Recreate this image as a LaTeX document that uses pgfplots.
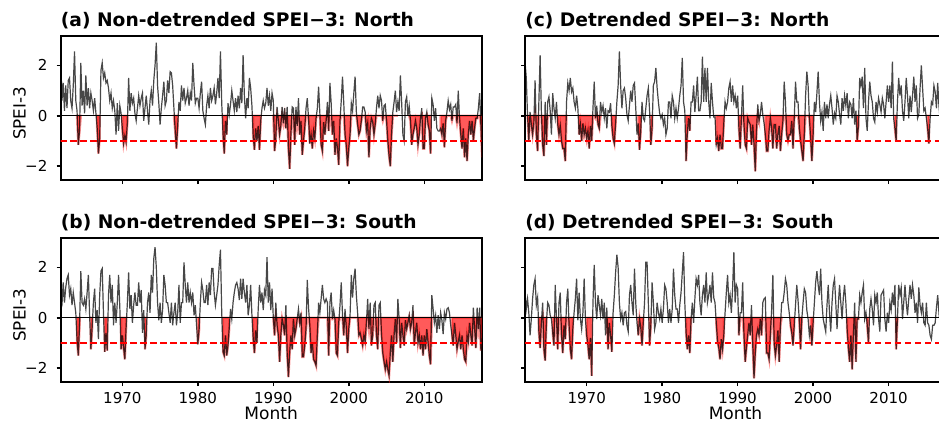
\documentclass[border=0pt]{standalone}
\usepackage{fontspec}
\setmainfont{DejaVu Sans}
\usepackage{pgfplots}
\usepackage{pgfplotstable}
\pgfplotsset{compat=1.18}

% SPEI-3, two-month steps from Nov 1961 (one row of six values per year)
\pgfplotstableread[row sep=\\]{
v\\
2.4\\
0.6\\ 1.3\\ 0.2\\ 1.2\\ 0.3\\ 1.4\\
1.5\\ 0.6\\ 0.3\\ 1.2\\ 2.55\\ 0.6\\
0.2\\ -1.15\\ -0.6\\ 2.1\\ 0.4\\ 1.0\\
0.1\\ 1.6\\ 0.4\\ 1.1\\ 0.3\\ 0.9\\
0.6\\ 0.2\\ 0.7\\ 0.1\\ -0.5\\ -1.5\\
-0.9\\ 1.8\\ 2.1\\ 1.5\\ 1.7\\ 1.3\\
1.4\\ 1.1\\ 0.6\\ 0.9\\ 0.3\\ 0.6\\
0.2\\ -0.75\\ 0.5\\ -0.6\\ 0.4\\ 0.1\\
-0.5\\ -1.1\\ -0.8\\ -1.05\\ -0.3\\ 1.5\\
0.2\\ 0.9\\ 0.5\\ 0.7\\ 0.1\\ -0.2\\
0.3\\ 0.8\\ 0.4\\ 0.7\\ 0.9\\ -0.2\\
0.3\\ 0.8\\ 0.2\\ -0.35\\ 0.6\\ 1.0\\
0.4\\ 1.4\\ 2.0\\ 2.9\\ 1.2\\ 0.5\\
-0.35\\ 0.3\\ 0.8\\ 1.35\\ 0.4\\ 0.6\\
1.4\\ 0.9\\ 1.75\\ 1.7\\ 1.2\\ 0.3\\
-0.6\\ -1.3\\ -0.4\\ 0.55\\ 0.2\\ 1.2\\
0.6\\ 1.1\\ 0.5\\ 0.7\\ 1.0\\ 0.4\\
0.9\\ 0.6\\ 2.1\\ 1.2\\ 0.5\\ 0.7\\
0.7\\ 0.3\\ 0.9\\ 1.35\\ 0.2\\ -0.1\\
-0.35\\ 0.4\\ 0.8\\ 0.3\\ 1.1\\ 0.6\\
0.8\\ 1.1\\ 0.45\\ 0.9\\ 1.5\\ 0.7\\
2.55\\ 0.5\\ -0.7\\ -1.5\\ -0.2\\ -0.75\\
0.5\\ 0.05\\ 0.45\\ 1.0\\ 0.6\\ 0.2\\
0.7\\ 0.15\\ 0.8\\ 0.3\\ 1.1\\ 0.5\\
2.4\\ 0.8\\ -0.1\\ 0.7\\ 0.3\\ 1.5\\
1.1\\ 0.4\\ -0.8\\ -1.35\\ -0.5\\ -1.0\\
-0.4\\ -1.35\\ -0.2\\ 0.3\\ 0.6\\ 0.3\\
0.5\\ 1.1\\ 0.4\\ 0.8\\ 0.2\\ 0.9\\
0.6\\ -1.4\\ -0.9\\ 0.35\\ -0.2\\ -0.75\\
-0.4\\ 0.35\\ -0.3\\ 0.3\\ -0.5\\ 0.35\\
-1.3\\ -2.1\\ -0.75\\ 0.35\\ 0.3\\ -1.15\\
0.35\\ -0.4\\ 0.7\\ -0.75\\ -0.2\\ -1.55\\
-1.0\\ -0.5\\ 0.3\\ 0.7\\ -0.1\\ -1.1\\
-0.75\\ -1.3\\ -0.6\\ -0.9\\ -0.1\\ 0.3\\
1.15\\ 0.1\\ -1.15\\ -1.4\\ -0.25\\ -0.75\\
-0.2\\ 0.55\\ -0.6\\ 1.3\\ 0.5\\ -0.75\\
-0.2\\ -1.55\\ -0.9\\ -1.3\\ -1.95\\ -0.2\\
0.6\\ 1.55\\ 0.5\\ -0.75\\ -1.2\\ -2.0\\
-1.3\\ -0.75\\ 0.5\\ 0.2\\ 0.9\\ 1.55\\
0.15\\ -0.35\\ -0.75\\ -0.6\\ -0.2\\ 0.35\\
0.35\\ 0.15\\ -0.6\\ -0.3\\ -1.65\\ -0.5\\
-0.1\\ -0.25\\ -0.75\\ -0.35\\ 0.3\\ 0.8\\
0.3\\ 0.8\\ 0.6\\ -0.2\\ 0.4\\ 0.45\\
-0.2\\ -1.0\\ -1.6\\ -2.0\\ -0.75\\ 0.15\\
0.55\\ 1.0\\ 0.15\\ 0.55\\ 0.2\\ 1.6\\
0.55\\ -0.75\\ -1.0\\ 0.55\\ 0.75\\ 0.0\\
0.4\\ -0.2\\ -1.15\\ -0.75\\ -0.5\\ -0.2\\
-0.5\\ -1.15\\ -0.75\\ -0.1\\ 0.3\\ -1.3\\
-1.3\\ -0.1\\ 0.15\\ -0.35\\ -0.6\\ -1.5\\
0.7\\ 0.45\\ -0.2\\ 0.3\\ -0.5\\ -0.6\\
-0.6\\ -0.5\\ -0.75\\ -0.3\\ -1.25\\ -0.2\\
0.15\\ 0.6\\ 0.25\\ 0.45\\ -0.2\\ 0.35\\
0.35\\ 0.45\\ -0.3\\ 1.0\\ -0.1\\ -0.75\\
-1.3\\ -0.5\\ -1.65\\ -0.9\\ -1.8\\ -0.75\\
-0.2\\ -0.75\\ -0.2\\ -1.0\\ -0.5\\ -0.1\\
-0.1\\ 0.3\\ 0.9\\ -0.4\\ -1.65\\
}\northraw

\pgfplotstableread[row sep=\\]{
v\\
0.3\\
0.5\\ 1.4\\ 0.6\\ 1.2\\ 1.55\\ 1.7\\
0.9\\ 1.15\\ 0.5\\ 1.0\\ 0.6\\ 0.2\\
-0.9\\ -1.5\\ -0.3\\ 1.85\\ 0.6\\ 0.5\\
0.75\\ 0.35\\ 1.0\\ 1.7\\ 0.1\\ -1.25\\
-0.4\\ 0.6\\ 1.15\\ -0.2\\ 0.3\\ -0.85\\
0.9\\ 1.85\\ 1.95\\ 0.2\\ -1.35\\ -0.6\\
-1.3\\ 0.9\\ 1.7\\ 0.6\\ 1.3\\ -0.3\\
0.6\\ -0.2\\ 0.6\\ 1.7\\ 0.4\\ -1.25\\
-0.7\\ -1.2\\ -1.65\\ -0.4\\ 0.6\\ 1.8\\
0.35\\ 0.9\\ -0.2\\ 0.5\\ 1.0\\ 0.5\\
0.5\\ 1.4\\ 0.6\\ 1.1\\ -0.6\\ 0.3\\
-1.25\\ -0.7\\ 0.6\\ 1.0\\ 0.2\\ 1.7\\
1.0\\ 2.35\\ 2.8\\ 2.0\\ 0.6\\ -0.1\\
0.6\\ -0.2\\ 0.3\\ 1.7\\ 1.3\\ 0.6\\
0.6\\ 0.2\\ -0.2\\ 0.6\\ -0.3\\ 0.2\\
0.6\\ -0.3\\ 0.2\\ 1.3\\ -0.2\\ 0.6\\
0.6\\ 2.2\\ 1.3\\ 0.6\\ 1.4\\ 0.6\\
1.0\\ 0.6\\ 1.0\\ 0.1\\ 0.5\\ -0.3\\
-1.05\\ -0.5\\ 0.6\\ 1.4\\ 1.1\\ 0.6\\
0.6\\ 1.3\\ 0.5\\ 1.4\\ 0.9\\ 1.95\\
1.95\\ 1.0\\ 0.5\\ 0.9\\ 1.3\\ 2.1\\
2.7\\ 0.2\\ -1.35\\ -1.5\\ -0.7\\ -1.5\\
-1.1\\ -0.4\\ 0.35\\ -0.05\\ 0.6\\ 1.0\\
1.3\\ 1.4\\ 1.15\\ 0.7\\ 1.55\\ 0.75\\
1.55\\ 1.0\\ 0.6\\ 1.3\\ 0.1\\ 0.5\\
1.3\\ 0.1\\ -0.8\\ -1.4\\ -0.5\\ -1.0\\
0.35\\ 1.3\\ 0.6\\ 1.0\\ 0.3\\ 1.1\\
0.9\\ 2.4\\ 0.6\\ 1.4\\ 0.3\\ 1.15\\
0.0\\ -0.7\\ 0.6\\ -0.3\\ -0.7\\ -1.75\\
-0.7\\ -0.05\\ -0.3\\ -0.7\\ 0.5\\ -1.4\\
-2.35\\ -1.4\\ -0.7\\ -1.25\\ -0.05\\ -0.7\\
-0.45\\ -0.05\\ 0.35\\ -0.2\\ 0.2\\ -1.55\\
-1.55\\ -1.1\\ -0.45\\ 1.5\\ 0.4\\ -0.3\\
-1.4\\ -1.0\\ -1.65\\ -1.75\\ -1.9\\ -0.7\\
0.6\\ 0.2\\ 0.75\\ 1.3\\ 0.75\\ 0.6\\
0.75\\ 0.6\\ -1.5\\ 0.6\\ 1.0\\ -0.05\\
0.3\\ -0.05\\ -1.4\\ -1.5\\ -0.2\\ 0.5\\
1.4\\ 0.1\\ -0.7\\ 0.35\\ -0.4\\ -1.4\\
-0.45\\ 0.1\\ 1.7\\ 0.8\\ 1.55\\ 1.95\\
0.9\\ 0.2\\ -0.7\\ -0.6\\ -0.85\\ -1.1\\
-0.7\\ -0.95\\ -0.2\\ 0.75\\ -0.45\\ 0.6\\
-1.1\\ -0.7\\ 0.5\\ 0.6\\ -0.7\\ -1.25\\
0.5\\ 0.6\\ -0.7\\ -1.4\\ -1.75\\ -2.05\\
-1.75\\ -2.05\\ -2.3\\ -1.4\\ -0.7\\ -1.75\\
-0.7\\ -0.05\\ -1.0\\ 0.75\\ -0.05\\ -1.2\\
-0.2\\ -0.7\\ -1.1\\ -0.1\\ -0.45\\ -0.2\\
0.1\\ -0.45\\ -0.2\\ 0.5\\ -1.1\\ -0.6\\
-0.2\\ -1.0\\ -0.7\\ -1.25\\ -0.7\\ -1.5\\
-0.7\\ -1.25\\ -0.45\\ -1.0\\ -1.5\\ -1.85\\
0.9\\ 0.35\\ -0.2\\ 0.1\\ -0.6\\ 0.1\\
-0.45\\ 0.2\\ -0.1\\ -0.65\\ 0.2\\ -0.05\\
0.35\\ 0.4\\ 0.2\\ -0.3\\ -0.7\\ -1.1\\
-0.2\\ -0.7\\ -1.25\\ -0.95\\ -0.7\\ -1.25\\
-0.7\\ -1.25\\ -1.65\\ -1.75\\ -0.7\\ -0.95\\
-0.2\\ -0.7\\ -1.1\\ 0.4\\ -0.45\\ -1.2\\
0.4\\ -0.45\\ 0.4\\ -1.3\\ -0.8\\
}\southraw

\pgfplotstableread[row sep=\\]{
v\\
2.15\\
1.5\\ 0.0\\ -1.0\\ 0.15\\ -0.35\\ -0.75\\
-0.3\\ 1.4\\ -0.75\\ -1.4\\ 0.55\\ 2.4\\
0.15\\ -1.15\\ -1.6\\ 0.55\\ -1.15\\ 0.55\\
0.75\\ 0.2\\ -0.75\\ 0.9\\ 0.3\\ -0.1\\
0.55\\ -0.35\\ -0.75\\ -0.4\\ -1.0\\ -1.3\\
-1.3\\ -1.8\\ 0.55\\ 1.3\\ 1.0\\ 1.5\\
0.95\\ 1.1\\ 0.55\\ 0.3\\ 0.8\\ 0.3\\
-0.75\\ -0.35\\ -1.0\\ -0.3\\ -0.75\\ -0.5\\
-0.9\\ -0.6\\ -1.3\\ -0.4\\ -1.0\\ 0.3\\
1.35\\ -0.1\\ 0.4\\ -0.35\\ -0.5\\ 0.55\\
0.15\\ 0.4\\ -0.1\\ 0.3\\ -0.5\\ 0.2\\
0.15\\ 0.5\\ -0.4\\ -0.9\\ -1.1\\ -0.3\\
0.55\\ 1.2\\ 2.55\\ 1.2\\ 0.3\\ 1.0\\
1.1\\ 0.7\\ 0.05\\ -0.2\\ 0.4\\ 1.0\\
0.55\\ 1.2\\ 1.3\\ 0.3\\ -0.75\\ -0.3\\
-1.35\\ -0.6\\ 0.55\\ -0.1\\ -0.2\\ 0.3\\
0.8\\ 1.1\\ 0.2\\ -1.15\\ -0.5\\ 1.2\\
1.35\\ 1.9\\ 1.1\\ 0.55\\ 0.1\\ -0.1\\
0.05\\ -0.35\\ -0.1\\ -0.75\\ -0.5\\ 0.55\\
0.55\\ -0.1\\ 0.8\\ 0.55\\ -0.1\\ 0.3\\
-0.1\\ 0.3\\ 0.8\\ 1.2\\ 2.3\\ 0.55\\
0.2\\ -1.8\\ -0.7\\ -0.1\\ -0.6\\ 0.55\\
0.55\\ 1.2\\ 0.15\\ 0.8\\ 1.55\\ 0.2\\
0.2\\ 0.55\\ 2.35\\ 0.55\\ 1.9\\ 0.55\\
1.9\\ 0.55\\ -0.1\\ 1.3\\ 0.55\\ -0.05\\
-0.05\\ -1.15\\ -0.9\\ -1.4\\ -0.75\\ -1.3\\
-1.3\\ -0.3\\ 0.55\\ 0.3\\ 0.55\\ 1.1\\
1.35\\ 0.55\\ 1.2\\ 0.55\\ 0.8\\ 0.3\\
0.8\\ -0.5\\ -1.3\\ -0.1\\ 1.2\\ -0.35\\
-1.15\\ -1.3\\ -0.1\\ -0.25\\ -0.35\\ -1.15\\
-0.35\\ -1.15\\ -2.2\\ -0.6\\ 0.45\\ -0.2\\
0.05\\ 0.55\\ 0.05\\ -0.3\\ -0.75\\ -1.4\\
-1.4\\ -0.6\\ -0.1\\ -0.5\\ -1.3\\ -0.35\\
-0.35\\ -1.3\\ -0.75\\ -0.4\\ -1.4\\ -0.75\\
-0.2\\ 1.35\\ 0.55\\ -0.75\\ -1.0\\ -0.75\\
-0.75\\ -0.2\\ -1.3\\ -0.1\\ 1.35\\ 0.55\\
0.55\\ -0.5\\ -1.0\\ -1.4\\ -1.8\\ -0.75\\
0.8\\ 1.75\\ 1.2\\ -0.1\\ -0.9\\ -1.8\\
-0.75\\ 0.55\\ 0.15\\ 0.9\\ 1.75\\ 0.55\\
-0.2\\ 0.15\\ -0.6\\ 0.55\\ -0.1\\ 0.45\\
-0.1\\ 0.45\\ 0.8\\ 0.3\\ -0.35\\ 0.1\\
-0.1\\ 0.8\\ 0.55\\ 0.05\\ -0.35\\ 0.7\\
0.2\\ 0.8\\ 0.4\\ 0.9\\ -0.1\\ 0.55\\
0.45\\ -0.1\\ 0.7\\ -0.35\\ 0.2\\ -1.0\\
-0.4\\ 1.5\\ 1.2\\ 1.55\\ 0.3\\ 1.9\\
-0.1\\ -0.6\\ 0.55\\ 1.35\\ 0.8\\ 0.55\\
-0.1\\ -0.25\\ 0.55\\ 0.15\\ 0.7\\ 0.45\\
0.15\\ 0.7\\ 0.45\\ -0.1\\ 0.55\\ 1.2\\
0.55\\ 1.2\\ 0.3\\ 2.15\\ -0.1\\ -0.5\\
-1.0\\ 0.55\\ 1.5\\ 0.8\\ 1.2\\ 0.2\\
-0.2\\ 0.55\\ 1.5\\ 0.8\\ -0.1\\ 0.8\\
0.15\\ 0.8\\ 1.55\\ 0.55\\ 1.2\\ -0.1\\
0.05\\ 1.1\\ 2.0\\ 1.1\\ 0.2\\ 0.3\\
-0.1\\ -0.5\\ -1.1\\ -0.1\\ 0.55\\ 0.45\\
1.2\\ 0.95\\ 0.3\\ 1.3\\ 0.4\\ -0.2\\
0.6\\ 1.1\\ 0.2\\ -0.4\\ 0.5\\
}\northdet

\pgfplotstableread[row sep=\\]{
v\\
1.0\\
0.35\\ 0.75\\ 0.2\\ -0.7\\ -0.05\\ 0.75\\
1.3\\ 1.55\\ 0.5\\ 0.8\\ -0.55\\ -1.2\\
-0.2\\ 0.6\\ -1.25\\ -1.7\\ -0.2\\ 0.6\\
0.5\\ 0.1\\ -0.05\\ -0.6\\ -1.1\\ 1.3\\
-0.05\\ -1.25\\ 0.6\\ 1.0\\ -0.7\\ -1.4\\
-0.3\\ -0.85\\ 0.6\\ 1.15\\ -0.3\\ -1.25\\
-1.65\\ -0.45\\ 0.2\\ 0.75\\ 1.55\\ -0.1\\
1.0\\ -0.05\\ -0.45\\ 0.2\\ 1.55\\ -0.05\\
-0.7\\ -1.1\\ -1.65\\ -0.8\\ -2.3\\ 0.6\\
2.1\\ 0.6\\ -0.05\\ 0.9\\ 0.5\\ 0.1\\
0.75\\ -0.05\\ 0.6\\ -0.7\\ 0.4\\ -1.25\\
-0.2\\ -0.7\\ -1.35\\ 0.2\\ 0.9\\ 1.8\\
2.5\\ 2.0\\ 0.6\\ -0.05\\ 0.2\\ -0.3\\
0.2\\ 0.25\\ -0.3\\ -0.55\\ 0.9\\ 1.3\\
0.6\\ 0.1\\ 1.95\\ 0.6\\ -0.2\\ -0.7\\
-0.05\\ -0.4\\ -1.1\\ -0.2\\ 0.6\\ 2.2\\
2.2\\ 0.6\\ -1.1\\ -0.3\\ 1.4\\ 0.6\\
-0.45\\ -0.2\\ 0.6\\ 0.2\\ -0.05\\ 0.35\\
-0.2\\ 0.35\\ 1.3\\ 1.15\\ 0.6\\ -0.2\\
0.35\\ -0.2\\ 0.35\\ 1.95\\ 0.9\\ 0.35\\
0.35\\ -0.2\\ 0.5\\ 1.0\\ 1.8\\ 2.6\\
0.6\\ -0.6\\ -1.25\\ -0.7\\ -1.4\\ -0.05\\
0.6\\ -0.2\\ 0.75\\ 1.55\\ 1.3\\ 1.7\\
0.6\\ 0.1\\ 0.9\\ 1.3\\ 0.6\\ 1.8\\
0.6\\ 0.9\\ 1.3\\ 0.6\\ 1.8\\ 0.8\\
0.6\\ -0.2\\ -0.95\\ -1.2\\ -1.65\\ -0.85\\
-1.25\\ -0.7\\ 0.2\\ 1.0\\ 1.7\\ 0.6\\
0.9\\ 0.2\\ 1.2\\ 2.6\\ 0.6\\ 1.3\\
1.15\\ -0.7\\ 0.2\\ 0.2\\ 1.4\\ -0.7\\
-1.75\\ -1.2\\ -0.7\\ -0.2\\ -0.7\\ 0.5\\
-1.1\\ -2.4\\ -1.4\\ -0.7\\ -0.45\\ -0.7\\
-0.05\\ -0.7\\ 0.6\\ 0.75\\ 0.8\\ -1.4\\
-1.4\\ -1.65\\ -0.7\\ 0.3\\ 1.7\\ -1.0\\
-1.5\\ -1.1\\ -0.5\\ -1.75\\ -0.3\\ 0.6\\
0.6\\ 1.0\\ 1.55\\ 1.3\\ 0.6\\ 0.2\\
-0.3\\ -0.6\\ -1.1\\ -0.3\\ 0.5\\ 1.3\\
0.7\\ -0.1\\ -1.25\\ -0.05\\ 0.6\\ 1.15\\
1.0\\ 0.3\\ -0.05\\ -0.7\\ -0.3\\ -1.1\\
-0.2\\ 0.6\\ 1.4\\ 1.85\\ 1.3\\ 0.9\\
1.95\\ 0.6\\ -0.05\\ -0.3\\ -0.55\\ 0.5\\
1.3\\ 0.2\\ -0.55\\ 0.6\\ 1.3\\ 1.55\\
0.6\\ -0.45\\ 0.5\\ 1.3\\ 0.6\\ -0.05\\
0.8\\ 1.3\\ 0.6\\ -0.45\\ -1.2\\ -1.75\\
-0.7\\ -2.05\\ -0.7\\ 0.6\\ -1.75\\ -0.05\\
-0.05\\ 0.9\\ 0.6\\ 1.0\\ 1.3\\ -0.05\\
0.2\\ -0.3\\ -1.0\\ 0.35\\ 0.75\\ 0.35\\
-0.3\\ 0.9\\ 0.6\\ 1.0\\ -0.05\\ -0.55\\
0.9\\ 1.0\\ 1.1\\ -0.05\\ -0.55\\ 0.2\\
-0.2\\ 0.6\\ 0.3\\ 1.0\\ 0.5\\ 1.3\\
-1.25\\ -0.05\\ 1.3\\ 0.9\\ 1.2\\ -0.05\\
0.6\\ 1.3\\ 0.6\\ 0.1\\ 0.75\\ 1.3\\
0.75\\ 1.3\\ 0.9\\ 0.2\\ 0.6\\ -0.2\\
1.2\\ 0.5\\ 0.2\\ 0.6\\ -0.2\\ -0.3\\
0.6\\ -0.2\\ -0.3\\ -0.7\\ -0.85\\ -0.3\\
-0.3\\ -0.2\\ 0.4\\ 0.9\\ 0.2\\ 0.5\\
0.3\\ -0.2\\ 0.6\\ 1.0\\ 0.4\\
}\southdet

\definecolor{thresh}{RGB}{255,0,0}
\definecolor{dfill}{RGB}{255,20,20}

\pgfplotsset{
  speiax/.style={
    scale only axis, width=315.75pt, height=107.8pt, anchor=south west,
    xmin=1961.83, xmax=2017.6, ymin=-2.55, ymax=3.15,
    xtick={1970,1980,1990,2000,2010}, ytick={-2,0,2},
    tick pos=left, tick align=outside, major tick length=3pt,
    every tick/.style={black, line width=1.1pt},
    axis line style={line width=1.5pt},
    tick label style={font=\fontsize{11.3}{13}\selectfont},
    xticklabel style={anchor=base, yshift=-13.3pt, inner sep=0pt},
    yticklabel style={anchor=east, xshift=-6.75pt, inner sep=0pt},
    title style={at={(0,1)}, anchor=base west, yshift=1.3pt, inner sep=0pt,
      font=\fontsize{14}{16}\selectfont\bfseries},
    ylabel style={at={(axis description cs:-0.098,0.465)}, anchor=center,
      font=\fontsize{12.6}{14}\selectfont},
    xlabel style={at={(axis description cs:0.5,0)}, anchor=base, yshift=-28pt,
      inner sep=0pt, font=\fontsize{12.8}{15}\selectfont},
  },
  drought/.style={fill=dfill, fill opacity=0.7, draw=dfill, draw opacity=0.45, line width=1.8pt},
  series/.style={black, opacity=0.72, line width=0.9pt},
  threshold/.style={draw=thresh, line width=1.5pt, dash pattern=on 5pt off 2.5pt},
}

% drought fills, SPEI line, -1 threshold and zero line of one panel
\newcommand{\speipanel}[2]{%
  \pgfplotsinvokeforeach{#2}{%
    \addplot[drought] table[x index=0, y index=0, x expr=1961.8333+\coordindex/6,
      y expr={min(\thisrow{v},0)}, restrict x to domain=##1] {#1} \closedcycle;}
  \addplot[series] table[x index=0, y index=0, x expr=1961.8333+\coordindex/6] {#1};
  \addplot[threshold] coordinates {(1961.8,-1) (2017.7,-1)};
  \addplot[black, line width=0.8pt] coordinates {(1961.8,0) (2017.7,0)};
}

\begin{document}
\begin{tikzpicture}
\useasboundingbox (0,0) rectangle (704.25pt,316.5pt);
\clip (0,0) rectangle (704.25pt,316.5pt);

\begin{axis}[speiax, at={(45.5pt,181.44pt)}, title={(a) Non-detrended SPEI−3: North},
  ylabel={SPEI-3}, xticklabels={}, yticklabels={−2,0,2}]
\speipanel{\northraw}{1963.9:1964.5, 1966.6:1967.1, 1969.9:1970.8, 1976.8:1977.4, 1983.2:1983.9, 1987.2:1988.4, 1989.9:2006.5, 2007.9:2010.9, 2012.1:2017.7}
\end{axis}

\begin{axis}[speiax, at={(45.5pt,29.95pt)}, title={(b) Non-detrended SPEI−3: South},
  ylabel={SPEI-3}, xlabel={Month}, xticklabels={1970,1980,1990,2000,2010}, yticklabels={−2,0,2}]
\speipanel{\southraw}{1963.9:1964.4, 1965.8:1966.1, 1967.6:1968.1, 1969.8:1970.6, 1972.9:1973.2, 1979.9:1980.2, 1983.3:1984.2, 1987.3:1987.9, 1989.9:2011.1, 2013.6:2017.7}
\end{axis}

\begin{axis}[speiax, at={(393.75pt,181.44pt)}, title={(c) Detrended SPEI−3: North},
  xticklabels={}, yticklabels={}]
\speipanel{\northdet}{1962.1:1965.2, 1966.1:1967.4, 1969.0:1972.0, 1973.3:1973.9, 1976.8:1977.2, 1978.4:1978.7, 1983.1:1983.7, 1987.1:1988.2, 1990.1:1992.9, 1993.6:2000.1, 2005.8:2006.1, 2010.8:2011.1, 2015.1:2015.4}
\end{axis}

\begin{axis}[speiax, at={(393.75pt,29.95pt)}, title={(d) Detrended SPEI−3: South},
  xlabel={Month}, xticklabels={1970,1980,1990,2000,2010}, yticklabels={}]
\speipanel{\southdet}{1963.6:1964.7, 1965.4:1968.2, 1969.9:1970.7, 1972.6:1973.4, 1976.8:1977.6, 1978.3:1978.6, 1983.1:1983.9, 1987.1:1988.2, 1990.1:1995.9, 1997.0:1997.6, 1998.1:1998.6, 1999.6:2000.1, 2004.4:2006.1, 2007.1:2007.4, 2010.9:2011.2}
\end{axis}
\end{tikzpicture}
\end{document}
